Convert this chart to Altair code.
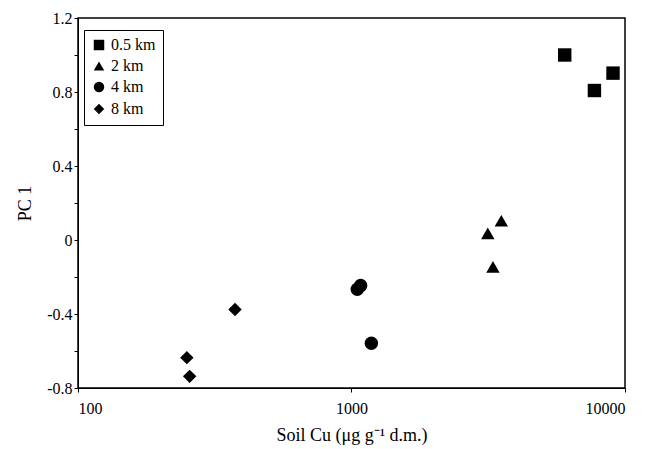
import altair as alt
import pandas as pd

groups = ["0.5 km"] * 3 + ["2 km"] * 3 + ["4 km"] * 3 + ["8 km"] * 3
soil_cu = [6020, 7730, 9040, 3150, 3530, 3290, 1050, 1080, 1182, 250, 256, 375]
pc1 = [1.0, 0.808, 0.902, 0.036, 0.104, -0.145, -0.266, -0.246, -0.558, -0.636, -0.737, -0.376]

df = pd.DataFrame({"group": groups, "cu": soil_cu, "pc1": pc1})

font = "Liberation Serif"

chart = (
    alt.Chart(df)
    .mark_point(filled=True, size=180, opacity=1, color="black")
    .encode(
        x=alt.X("cu:Q", scale=alt.Scale(type="log", domain=[100, 10000]),
                title="Soil Cu (μg g⁻¹ d.m.)",
                axis=alt.Axis(values=[100, 1000, 10000], format="d", grid=False,
                              tickSize=4, labelPadding=8, titlePadding=10)),
        y=alt.Y("pc1:Q", scale=alt.Scale(domain=[-0.8, 1.2], nice=False),
                title="PC 1",
                axis=alt.Axis(values=[-0.8, -0.6, -0.4, -0.2, 0, 0.2, 0.4, 0.6, 0.8, 1.0, 1.2],
                              labelExpr="abs(datum.value*10) % 4 < 0.01 ? (datum.value == 0 ? '0' : replace(format(datum.value, '.1f'), '−', '-')) : ''",
                              grid=False, tickSize=4, titlePadding=12)),
        shape=alt.Shape("group:N",
                        scale=alt.Scale(domain=["0.5 km", "2 km", "4 km", "8 km"],
                                        range=["square", "triangle-up", "circle", "diamond"]),
                        legend=alt.Legend(title=None, orient="none", legendX=6, legendY=12,
                                          strokeColor="black", padding=7, fillColor="white",
                                          symbolFillColor="black", symbolStrokeColor="black",
                                          symbolSize=110, labelFontSize=16, labelFont=font,
                                          rowPadding=4)),
    )
    .properties(width=547, height=370, autosize=alt.AutoSizeParams(type="none"),
                padding={"left": 70, "top": 10, "right": 14, "bottom": 60})
    .configure_view(stroke="black", strokeWidth=1.5)
    .configure_axis(labelFont=font, titleFont=font, labelFontSize=16, titleFontSize=18,
                    labelColor="black", titleColor="black", domainColor="black",
                    tickColor="black", titleFontWeight="normal")
)

chart.save("out.html", embed_options={"renderer": "svg", "actions": False})
